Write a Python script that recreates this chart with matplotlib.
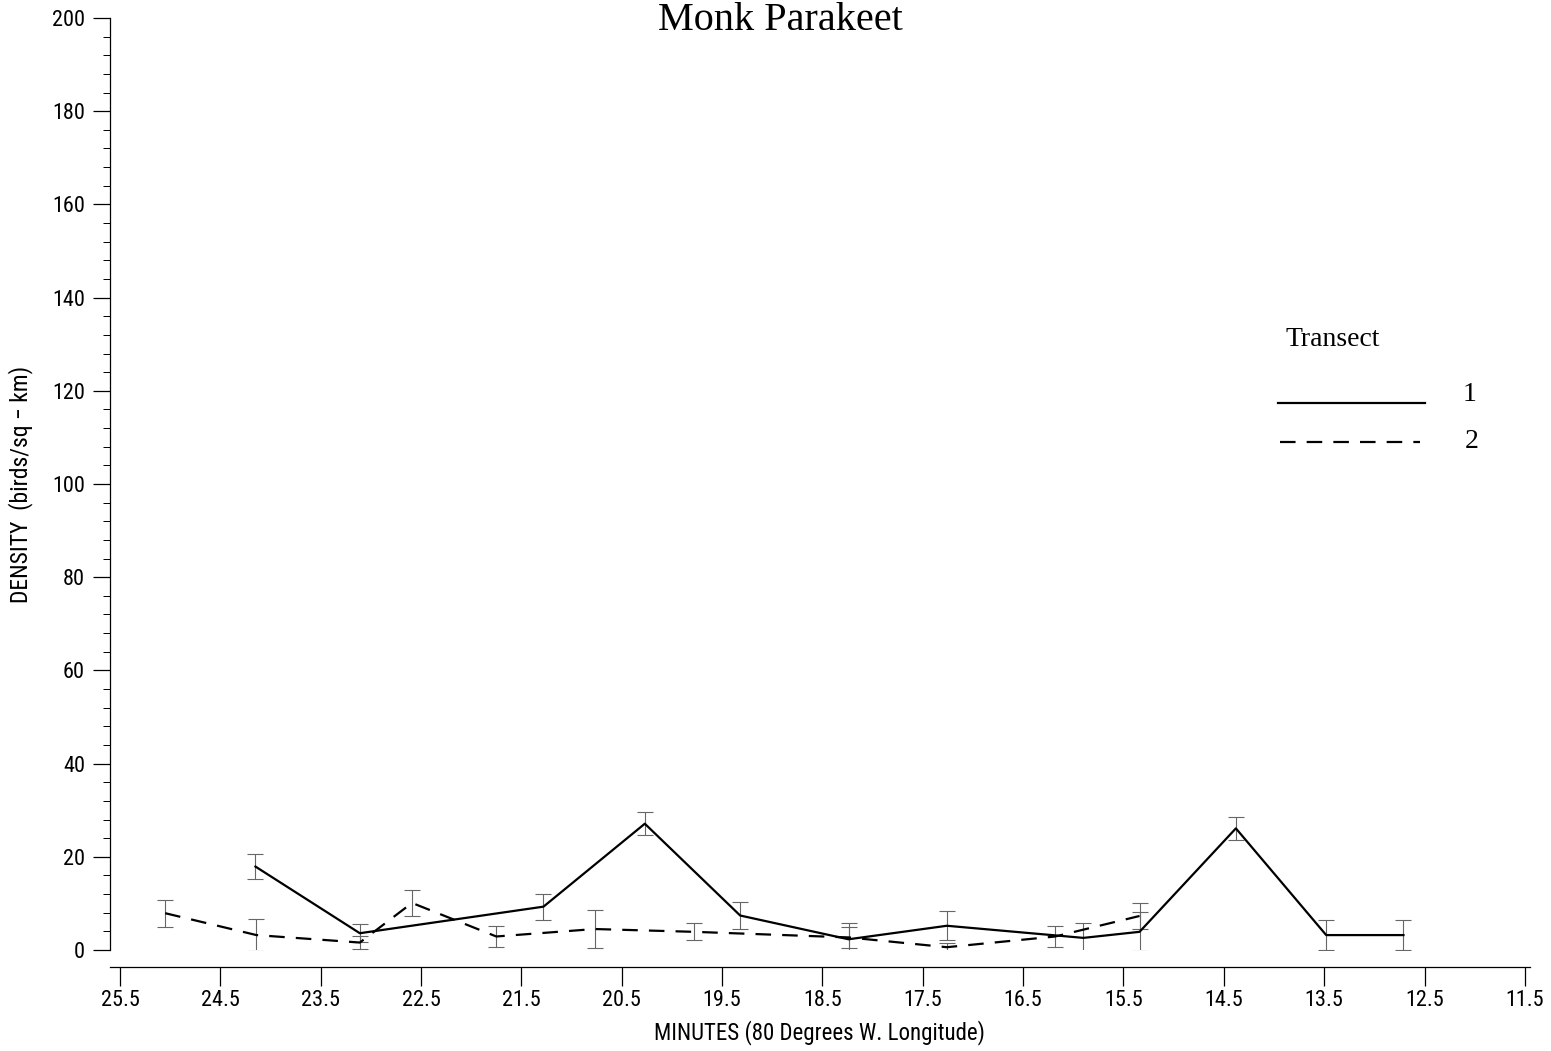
import matplotlib.pyplot as plt
import numpy as np
from matplotlib import font_manager
from matplotlib.lines import Line2D
from matplotlib.ticker import MultipleLocator, FixedLocator

# transect 1 (solid)
x1 = [24.15, 23.11, 21.28, 20.27, 19.32, 18.24, 17.26, 15.9, 15.34, 14.38, 13.48, 12.71]
y1 = [17.9, 3.6, 9.3, 27.1, 7.4, 2.3, 5.2, 2.6, 3.9, 26.1, 3.2, 3.2]
e1 = [2.7, 1.9, 2.8, 2.5, 2.9, 3.5, 3.1, 3.3, 4.2, 2.5, 3.3, 3.3]

# transect 2 (dashed)
x2 = [25.05, 24.14, 23.11, 22.59, 21.75, 20.77, 19.78, 18.24, 17.26, 16.18, 15.34]
y2 = [7.9, 3.2, 1.6, 10.1, 2.9, 4.5, 3.9, 2.7, 0.6, 2.9, 7.3]
e2 = [2.9, 3.5, 1.3, 2.8, 2.3, 4.0, 1.8, 2.2, 1.0, 2.2, 2.8]

xticks = np.arange(25.5, 11.0, -1.0)
yticks = np.arange(0, 201, 20)

# pick a narrow sans if one is around
installed = {f.name for f in font_manager.fontManager.ttflist}
narrow = [n for n in ['Liberation Sans Narrow', 'DejaVu Sans Condensed', 'Roboto Condensed',
                      'Open Sans Condensed', 'Liberation Sans'] if n in installed]
sans = narrow[:1] + ['DejaVu Sans']
serif = ['Liberation Serif', 'DejaVu Serif']

fig = plt.figure(figsize=(15.51, 10.51), dpi=100)
ax = fig.add_axes([0.0709, 0.0961, 0.9155, 0.8868])

ax.errorbar(x1, y1, yerr=e1, fmt='none', ecolor='#666666', elinewidth=0.8, capsize=6, capthick=0.8)
ax.errorbar(x2, y2, yerr=e2, fmt='none', ecolor='#666666', elinewidth=0.8, capsize=6, capthick=0.8)
ax.plot(x1, y1, color='black', lw=1.6)
ax.plot(x2, y2, color='black', lw=1.6, ls=(0, (7, 5)))

ax.set_xlim(25.6, 11.45)
ax.set_ylim(0, 200)

ax.spines['top'].set_visible(False)
ax.spines['right'].set_visible(False)
ax.spines['bottom'].set_position(('outward', 12))
for s in ['left', 'bottom']:
    ax.spines[s].set_linewidth(0.9)

ax.xaxis.set_major_locator(FixedLocator(xticks))
ax.set_xticklabels([f'{v:.1f}' for v in xticks], family=sans, fontsize=16)
ax.set_yticks(yticks)
ax.set_yticklabels([str(v) for v in yticks], family=sans, fontsize=16)
ax.yaxis.set_minor_locator(MultipleLocator(4))
ax.tick_params(axis='x', direction='out', length=14, width=0.9, pad=3)
ax.tick_params(axis='y', which='major', direction='out', length=12, width=0.9, pad=6)
ax.tick_params(axis='y', which='minor', direction='out', length=5, width=0.7)

ax.set_xlabel('MINUTES (80 Degrees W. Longitude)', family=sans, fontsize=16.5, labelpad=6)
ax.set_ylabel('DENSITY  (birds/sq − km)', family=sans, fontsize=17)
ax.yaxis.set_label_coords(-0.054, 0.5)

fig.text(0.503, 1 - 30 / 1051, 'Monk Parakeet', family=serif, fontsize=29, ha='center', va='baseline')

# legend, laid out like the original
W, H = 1551, 1051
fig.text(1285 / W, 1 - 340 / H, 'Transect', family=serif, fontsize=20, ha='left', va='center')
fig.add_artist(Line2D([1278 / W, 1425 / W], [1 - 403 / H] * 2, color='black', lw=1.6))
fig.add_artist(Line2D([1280 / W, 1420 / W], [1 - 442 / H] * 2, color='black', lw=1.6,
                      ls=(0, (7, 5))))
fig.text(1470 / W, 1 - 395 / H, '1', family=serif, fontsize=20, ha='center', va='center')
fig.text(1472 / W, 1 - 441 / H, '2', family=serif, fontsize=20, ha='center', va='center')

fig.savefig('out.png', dpi=100)
